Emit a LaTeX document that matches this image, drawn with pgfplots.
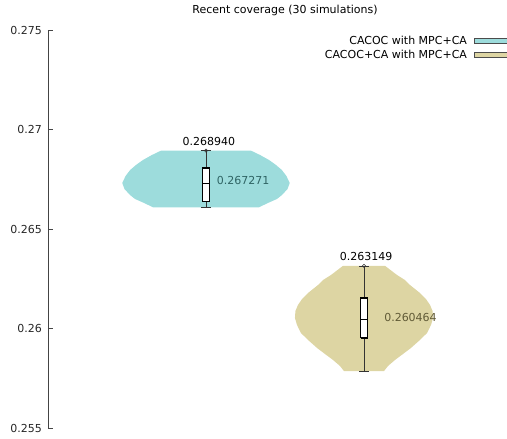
\documentclass[border=0pt]{standalone}
\usepackage{fontspec}
\setmainfont{DejaVu Sans}
\usepackage{pgfplots}
\pgfplotsset{compat=1.18}
\definecolor{violA}{HTML}{9DDCDC}
\definecolor{violB}{HTML}{DDD5A3}
\definecolor{labA}{HTML}{2F6464}
\definecolor{labB}{HTML}{605A36}
\definecolor{axisgray}{HTML}{444444}
\pgfplotsset{
  whisk/.style={forget plot, black!80, line width=0.6pt},
  boxs/.style={forget plot, draw=black, fill=white, line width=1.1pt},
}
\begin{document}
\begin{tikzpicture}
\useasboundingbox (-48pt,-11pt) rectangle (459pt,428pt);
\clip (-48pt,-11pt) rectangle (459pt,428pt);
\begin{axis}[
  scale only axis, width=474pt, height=398pt,
  xmin=0, xmax=3, ymin=0.255, ymax=0.275,
  font=\fontsize{11}{13}\selectfont,
  axis x line=none, axis y line*=left,
  y axis line style={axisgray, line width=0.8pt},
  ytick={0.255,0.26,0.265,0.27,0.275},
  yticklabels={0.255,0.26,0.265,0.27,0.275},
  tick align=inside, major tick length=5pt,
  tick style={axisgray, line width=0.8pt},
  y tick label style={xshift=-2.5pt, text=black!85},
  title={Recent coverage (30 simulations)},
  title style={at={(0.5,1)}, anchor=base, yshift=10pt, inner sep=0pt},
  legend plot pos=right,
  legend cell align=right,
  legend style={draw=none, fill=none, at={(0.985,0.987)}, anchor=north east,
    inner sep=0pt, row sep=2pt, column sep=6pt, nodes={inner sep=1pt}},
  clip=false,
]

% violin: CACOC with MPC+CA
\addplot[fill=violA, draw=none,
  legend image code/.code={\draw[fill=violA, draw=black!70, line width=0.7pt] (0pt,-2.5pt) rectangle (40pt,2.5pt);}]
coordinates {
(1.284,0.268940) (1.342,0.268719) (1.399,0.268467) (1.443,0.268216)
(1.480,0.267965) (1.509,0.267663) (1.530,0.267312) (1.516,0.267010)
(1.481,0.266709) (1.449,0.266508) (1.392,0.266307) (1.335,0.266090)
(0.665,0.266090) (0.608,0.266307) (0.551,0.266508) (0.519,0.266709)
(0.484,0.267010) (0.470,0.267312) (0.491,0.267663) (0.520,0.267965)
(0.557,0.268216) (0.601,0.268467) (0.658,0.268719) (0.716,0.268940)
};
\addlegendentry{CACOC with MPC+CA}

% violin: CACOC+CA with MPC+CA
\addplot[fill=violB, draw=none,
  legend image code/.code={\draw[fill=violB, draw=black!70, line width=0.7pt] (0pt,-2.5pt) rectangle (40pt,2.5pt);}]
coordinates {
(2.133,0.263149) (2.209,0.262688) (2.259,0.262437) (2.291,0.262186)
(2.354,0.261784) (2.392,0.261482) (2.418,0.261181) (2.434,0.260879)
(2.437,0.260528) (2.424,0.260176) (2.399,0.259774) (2.354,0.259422)
(2.297,0.259020) (2.247,0.258719) (2.196,0.258417) (2.152,0.258116)
(2.127,0.257864)
(1.873,0.257864) (1.848,0.258116) (1.804,0.258417) (1.753,0.258719)
(1.703,0.259020) (1.646,0.259422) (1.601,0.259774) (1.576,0.260176)
(1.563,0.260528) (1.566,0.260879) (1.582,0.261181) (1.608,0.261482)
(1.646,0.261784) (1.709,0.262186) (1.741,0.262437) (1.791,0.262688)
(1.867,0.263149)
};
\addlegendentry{CACOC+CA with MPC+CA}

% box plot 1: whiskers, caps, box, median
\addplot[whisk] coordinates {(1,0.26609) (1,0.268940)};
\addplot[whisk] coordinates {(0.97,0.26609) (1.03,0.26609)};
\addplot[whisk] coordinates {(0.97,0.268940) (1.03,0.268940)};
\addplot[boxs] coordinates {(0.98,0.26638) (1.02,0.26638) (1.02,0.268065) (0.98,0.268065) (0.98,0.26638)};
\addplot[whisk, black, line width=1.1pt] coordinates {(0.98,0.267271) (1.02,0.267271)};

% box plot 2
\addplot[whisk] coordinates {(2,0.257864) (2,0.263149)};
\addplot[whisk] coordinates {(1.97,0.257864) (2.03,0.257864)};
\addplot[whisk] coordinates {(1.97,0.263149) (2.03,0.263149)};
\addplot[boxs] coordinates {(1.98,0.259523) (2.02,0.259523) (2.02,0.261533) (1.98,0.261533) (1.98,0.259523)};
\addplot[whisk, black, line width=1.1pt] coordinates {(1.98,0.260464) (2.02,0.260464)};

% max markers
\addplot[forget plot, only marks, mark=o, mark size=1.6pt, black!80, line width=0.6pt]
coordinates {(1,0.268940) (2,0.263149)};

% value labels
\node[anchor=south, inner sep=0pt, yshift=5pt] at (axis cs:1.018,0.268940) {0.268940};
\node[anchor=west, inner sep=0pt, text=labA] at (axis cs:1.068,0.26746) {0.267271};
\node[anchor=south, inner sep=0pt, yshift=5pt] at (axis cs:2.013,0.263149) {0.263149};
\node[anchor=west, inner sep=0pt, text=labB] at (axis cs:2.127,0.260563) {0.260464};
\end{axis}
\end{tikzpicture}
\end{document}
